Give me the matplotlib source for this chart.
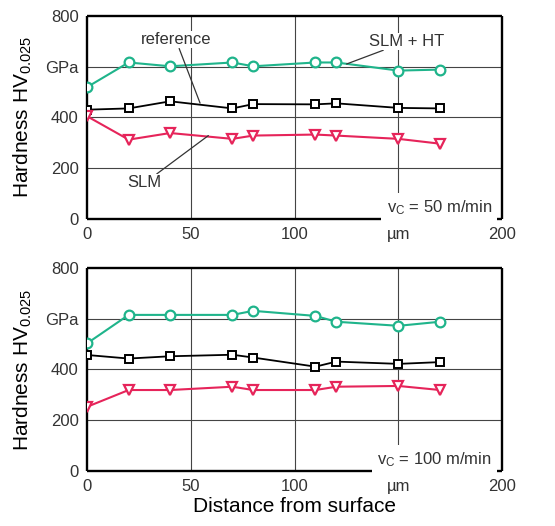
import matplotlib
matplotlib.use("Agg")
import matplotlib.pyplot as plt

plt.rcParams['font.family'] = ['Liberation Sans', 'DejaVu Sans']
plt.rcParams['mathtext.fontset'] = 'custom'
plt.rcParams['mathtext.rm'] = 'Liberation Sans'
plt.rcParams['mathtext.it'] = 'Liberation Sans'

x = [0, 20, 40, 70, 80, 110, 120, 150, 170]

# vc = 50 m/min
slm_ht_50 = [519, 616, 601, 616, 601, 616, 616, 584, 588]
ref_50 = [430, 435, 463, 435, 452, 451, 455, 437, 435]
slm_50 = [404, 312, 338, 315, 328, 332, 328, 315, 296]

# vc = 100 m/min
slm_ht_100 = [503, 615, 615, 615, 631, 611, 588, 572, 588]
ref_100 = [457, 443, 452, 458, 447, 411, 431, 422, 429]
slm_100 = [253, 319, 319, 332, 319, 319, 332, 335, 319]

xticks = [0, 50, 100, 150, 200]
xtick_labels = ['0', '50', '100', 'µm', '200']
yticks = [0, 200, 400, 600, 800]
ytick_labels = ['0', '200', '400', 'GPa', '800']

green = '#1fb48b'
red = '#e6245a'
txt = '#333333'

fig = plt.figure(figsize=(5.55, 5.26), dpi=100)
ax1 = fig.add_axes([0.157, 0.584, 0.748, 0.386])
ax2 = fig.add_axes([0.157, 0.1046, 0.748, 0.386])

def style(ax, vc_label):
    ax.set_xlim(0, 200)
    ax.set_ylim(0, 800)
    ax.set_xticks(xticks)
    ax.set_xticklabels(xtick_labels)
    ax.set_yticks(yticks)
    ax.set_yticklabels(ytick_labels)
    ax.tick_params(length=0, labelsize=12, labelcolor=txt, pad=6)
    ax.grid(True, color='#444444', lw=0.8)
    for gl in (ax.xaxis.get_gridlines()[0], ax.xaxis.get_gridlines()[-1],
               ax.yaxis.get_gridlines()[0], ax.yaxis.get_gridlines()[-1]):
        gl.set_visible(False)
    ax.set_axisbelow(True)
    for s in ax.spines.values():
        s.set_linewidth(1.7)
        s.set_color('black')
        s.set_capstyle('butt')
    ax.set_ylabel('Hardness HV$_{0.025}$', fontsize=15, color='black', labelpad=8)
    ax.text(195, 45, vc_label, ha='right', va='center', fontsize=12, color=txt,
            bbox=dict(facecolor='white', edgecolor='none', pad=4), zorder=5)

def draw(ax, g, k, r):
    ax.plot(x, g, color=green, lw=1.5, marker='o', ms=7, mfc='white',
            mec=green, mew=1.6, zorder=3)
    ax.plot(x, k, color='black', lw=1.3, marker='s', ms=6, mfc='white',
            mec='black', mew=1.4, zorder=3)
    ax.plot(x, r, color=red, lw=1.5, marker='v', ms=7.5, mfc='white',
            mec=red, mew=1.6, zorder=3)

draw(ax1, slm_ht_50, ref_50, slm_50)
draw(ax2, slm_ht_100, ref_100, slm_100)
style(ax1, '$v_C$ = 50 m/min')
style(ax2, '$v_C$ = 100 m/min')

ann = dict(arrowstyle='-', color='#333333', lw=0.9, shrinkA=0, shrinkB=0)
bb = dict(facecolor='white', edgecolor='none', pad=1)
ax1.annotate('reference', xy=(54.4, 456), xytext=(42.7, 706), ha='center', va='center',
             fontsize=12, color=txt, arrowprops=ann, bbox=bb, zorder=6)
ax1.annotate('SLM + HT', xy=(125, 610), xytext=(154, 699), ha='center', va='center',
             fontsize=12, color=txt, arrowprops=ann, bbox=bb, zorder=6)
ax1.annotate('SLM', xy=(58.4, 328), xytext=(27.8, 142), ha='center', va='center',
             fontsize=12, color=txt, arrowprops=ann, bbox=bb, zorder=6)

ax2.set_xlabel('Distance from surface', fontsize=15, color='black', labelpad=2)

fig.savefig('out.png', dpi=100)
